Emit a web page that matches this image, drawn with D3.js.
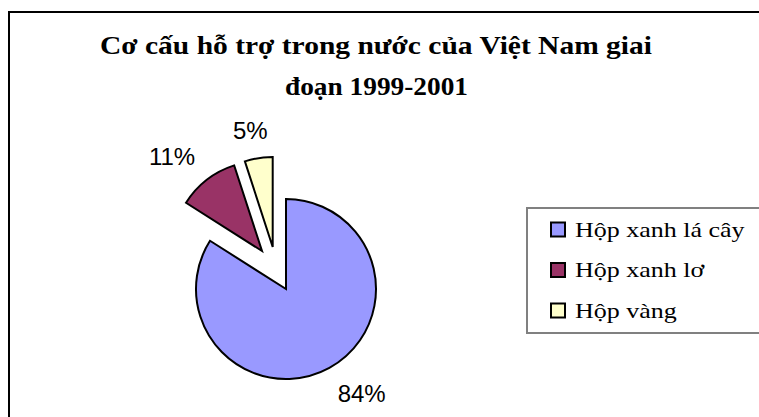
<!DOCTYPE html>
<html>
<head>
<meta charset="utf-8">
<script src="https://cdn.jsdelivr.net/npm/d3@7"></script>
<style>
  html, body { margin: 0; padding: 0; background: #fff; }
  svg { display: block; }
</style>
</head>
<body>
<div id="chart"></div>
<script>
// Chart data
const titleLines = ['Cơ cấu hỗ trợ trong nước của Việt Nam giai', 'đoạn 1999-2001'];
const categories = ['Hộp xanh lá cây', 'Hộp xanh lơ', 'Hộp vàng'];
const values = [84, 11, 5];
const colors = ['#9999FF', '#993366', '#FFFFCC'];

const width = 759;
const height = 417;

// pie layout (pixels)
const pieCenter = [286, 289];
const radius = 90;
// explode offsets for each slice
const explode = [[0, 0], [-24, -38], [-13.3, -42]];

const svg = d3.select('#chart')
  .append('svg')
  .attr('width', width)
  .attr('height', height);

svg.append('rect')
  .attr('width', width)
  .attr('height', height)
  .attr('fill', '#fff');

// outer chart border (runs off the right and bottom edges)
svg.append('rect')
  .attr('x', 9)
  .attr('y', 12)
  .attr('width', 780)
  .attr('height', 440)
  .attr('fill', 'none')
  .attr('stroke', '#000')
  .attr('stroke-width', 2);

// Title
const titleSpecs = [
  { x: 100, y: 54, len: 552 },
  { x: 285, y: 95, len: 183 }
];
svg.selectAll('.title')
  .data(titleLines)
  .enter()
  .append('text')
  .attr('class', 'title')
  .attr('x', (d, i) => titleSpecs[i].x)
  .attr('y', (d, i) => titleSpecs[i].y)
  .attr('textLength', (d, i) => titleSpecs[i].len)
  .attr('lengthAdjust', 'spacingAndGlyphs')
  .style('font-family', '"Liberation Serif", "Times New Roman", serif')
  .style('font-weight', 'bold')
  .style('font-size', '26px')
  .text(d => d);

// Pie
const pie = d3.pie().sort(null).value(d => d);
const arcs = pie(values);
const arc = d3.arc().innerRadius(0).outerRadius(radius);

const slices = svg.selectAll('.slice')
  .data(arcs)
  .enter()
  .append('g')
  .attr('class', 'slice')
  .attr('transform', (d, i) =>
    `translate(${pieCenter[0] + explode[i][0]}, ${pieCenter[1] + explode[i][1]})`);

slices.append('path')
  .attr('d', arc)
  .attr('fill', (d, i) => colors[i])
  .attr('stroke', '#000')
  .attr('stroke-width', 2)
  .attr('stroke-linejoin', 'miter');

// Percentage labels, placed outside each slice like Excel does
const total = d3.sum(values);
const labelFont = 24;
const capH = labelFont * 0.716;
const clamp = v => Math.max(-1, Math.min(1, v));

slices.append('text')
  .style('font-family', '"Liberation Sans", Arial, sans-serif')
  .style('font-size', labelFont + 'px')
  .text(d => Math.round(d.data / total * 100) + '%')
  .each(function(d) {
    const mid = (d.startAngle + d.endAngle) / 2;
    const s = Math.sin(mid);
    const c = Math.cos(mid);
    const r = radius + 19;
    const px = r * s;
    const py = -r * c;
    const w = this.getComputedTextLength();
    const f = 0.5 - 0.5 * clamp(2 * s);
    const g = 0.5 + 0.5 * clamp(2 * c);
    const top = py - g * capH;
    d3.select(this)
      .attr('x', px - f * w)
      .attr('y', top + capH);
  });

// Legend
const legend = svg.append('g').attr('class', 'legend');
legend.append('rect')
  .attr('x', 527)
  .attr('y', 208)
  .attr('width', 260)
  .attr('height', 125)
  .attr('fill', '#fff')
  .attr('stroke', '#808080')
  .attr('stroke-width', 2);

const rows = legend.selectAll('.legend-row')
  .data(categories)
  .enter()
  .append('g')
  .attr('class', 'legend-row')
  .attr('transform', (d, i) => `translate(551, ${236.5 + i * 40.5})`);

rows.append('rect')
  .attr('x', 0)
  .attr('y', -14)
  .attr('width', 14)
  .attr('height', 14)
  .attr('fill', (d, i) => colors[i])
  .attr('stroke', '#000')
  .attr('stroke-width', 2);

rows.append('text')
  .attr('transform', 'translate(24, 0) scale(1.3, 1)')
  .style('font-family', '"Liberation Serif", "Times New Roman", serif')
  .style('font-size', '20px')
  .text(d => d);
</script>
</body>
</html>
